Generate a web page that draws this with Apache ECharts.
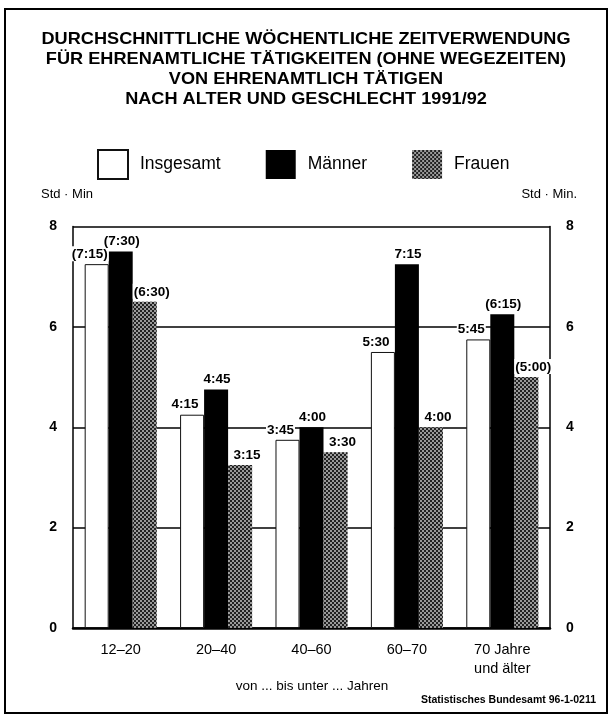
<!DOCTYPE html>
<html>
<head>
<meta charset="utf-8">
<script src="https://cdn.jsdelivr.net/npm/echarts@6/dist/echarts.min.js"></script>
<style>
html,body{margin:0;padding:0;background:#fff;}
#chart{width:612px;height:719px;}
</style>
</head>
<body>
<div id="chart"></div>
<script>
var categories = ['12\u201320', '20\u201340', '40\u201360', '60\u201370', '70 Jahre\nund \u00e4lter'];
var insgesamt = [7.25, 4.25, 3.75, 5.5, 5.75];
var maenner   = [7.5, 4.75, 4.0, 7.25, 6.25];
var frauen    = [6.5, 3.25, 3.5, 4.0, 5.0];
var labelsInsgesamt = ['(7:15)', '4:15', '3:45', '5:30', '5:45'];
var labelsMaenner   = ['(7:30)', '4:45', '4:00', '7:15', '(6:15)'];
var labelsFrauen    = ['(6:30)', '3:15', '3:30', '4:00', '(5:00)'];
var yTicks = [0, 2, 4, 6, 8];
var titleLines = [
  'DURCHSCHNITTLICHE W\u00d6CHENTLICHE ZEITVERWENDUNG',
  'F\u00dcR EHRENAMTLICHE T\u00c4TIGKEITEN (OHNE WEGEZEITEN)',
  'VON EHRENAMTLICH T\u00c4TIGEN',
  'NACH ALTER UND GESCHLECHT 1991/92'
];

var FONT = '"Liberation Sans", Arial, Helvetica, sans-serif';
var chart = echarts.init(document.getElementById('chart'), null, {renderer: 'canvas'});

function mkLabel(texts, dx) {
  return {
    show: true,
    position: 'top',
    distance: 3,
    offset: [dx, 0],
    color: '#000',
    fontFamily: FONT,
    fontWeight: 'bold',
    fontSize: 13.5,
    backgroundColor: '#fff',
    padding: [1, 1, 0, 1],
    formatter: function (p) { return texts[p.dataIndex]; }
  };
}

var yAxisCommon = {
  type: 'value',
  min: 0, max: 8, interval: 2,
  axisLine: {show: true, lineStyle: {color: '#000', width: 1.5}},
  axisTick: {show: false},
  axisLabel: {
    color: '#000', fontFamily: FONT, fontWeight: 'bold', fontSize: 14, margin: 16,
    formatter: function (v) { return yTicks.indexOf(v) >= 0 ? String(v) : ''; }
  }
};

var option = {
  animation: false,
  backgroundColor: '#fff',
  textStyle: {fontFamily: FONT},
  legend: {
    top: 144,
    left: 92,
    itemWidth: 30,
    itemHeight: 29,
    itemGap: 45,
    icon: 'rect',
    textStyle: {fontFamily: FONT, fontSize: 17.5, color: '#000', padding: [0, 0, 0, 7]},
    data: ['Insgesamt', 'M\u00e4nner', 'Frauen']
  },
  grid: {left: 73, right: 62, top: 226.5, bottom: 91, containLabel: false},
  xAxis: {
    type: 'category',
    data: categories,
    axisLine: {show: true, lineStyle: {color: '#000', width: 2.5}},
    axisTick: {show: false},
    axisLabel: {
      color: '#000', fontFamily: FONT, fontSize: 14.5, margin: 12, lineHeight: 19,
      verticalAlign: 'top'
    }
  },
  yAxis: [
    Object.assign({}, yAxisCommon, {
      position: 'left',
      splitLine: {show: true, lineStyle: {color: '#000', width: 1.5}}
    }),
    Object.assign({}, yAxisCommon, {
      position: 'right',
      splitLine: {show: false}
    })
  ],
  series: [
    {
      name: 'Insgesamt', type: 'bar', data: insgesamt,
      barGap: '0%', barCategoryGap: '24.5%',
      itemStyle: {color: '#fff', borderColor: '#111', borderWidth: 1},
      label: mkLabel(labelsInsgesamt, -7)
    },
    {
      name: 'M\u00e4nner', type: 'bar', data: maenner,
      itemStyle: {color: '#000'},
      label: mkLabel(labelsMaenner, 1)
    },
    {
      name: 'Frauen', type: 'bar', data: frauen,
      itemStyle: {
        color: '#9a9a9a',
        decal: {
          symbol: 'rect', symbolSize: 1, color: '#222',
          dashArrayX: [[2, 2], [0, 2, 2, 0]], dashArrayY: [2, 0]
        }
      },
      label: mkLabel(labelsFrauen, 7)
    }
  ],
  graphic: [
    {type: 'rect', shape: {x: 5, y: 9, width: 602, height: 704},
     style: {fill: 'none', stroke: '#000', lineWidth: 2}, silent: true, z: 100},
    {type: 'text', x: 306, y: 29, scaleX: 1.1, originX: 0, originY: 0,
     style: {text: titleLines.join('\n'), font: 'bold 16.5px ' + FONT, lineHeight: 20,
             fill: '#000', textAlign: 'center', textVerticalAlign: 'top'}},
    {type: 'text', left: 41, top: 188,
     style: {text: 'Std \u00b7 Min', font: '13px ' + FONT, fill: '#000'}},
    {type: 'text', right: 35, top: 188,
     style: {text: 'Std \u00b7 Min.', font: '13px ' + FONT, fill: '#000'}},
    {type: 'text', x: 312, y: 679,
     style: {text: 'von ... bis unter ... Jahren', font: '13.5px ' + FONT, fill: '#000', textAlign: 'center'}},
    {type: 'text', right: 16, top: 695,
     style: {text: 'Statistisches Bundesamt 96-1-0211', font: 'bold 10.5px ' + FONT, fill: '#000'}}
  ]
};
chart.setOption(option);
</script>
</body>
</html>
